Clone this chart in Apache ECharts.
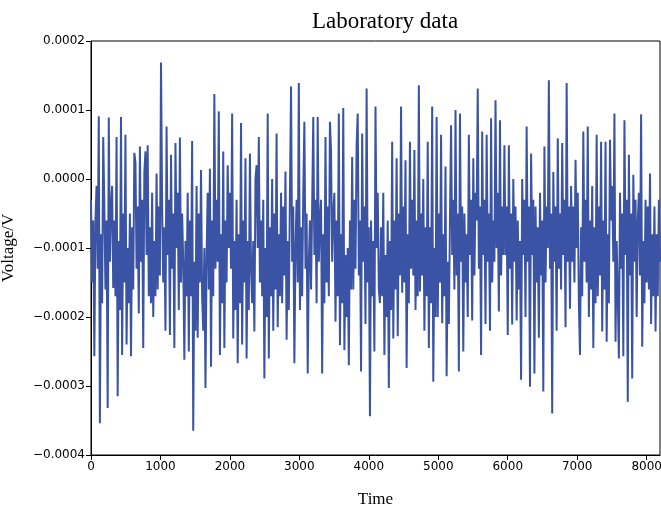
<!DOCTYPE html>
<html><head><meta charset="utf-8">
<script src="https://cdn.jsdelivr.net/npm/echarts@6/dist/echarts.min.js"></script>
<style>html,body{margin:0;padding:0;background:#fff}#c{width:661px;height:506px}</style>
</head><body><div id="c"></div>
<script>
// Voltage readings in microvolts, sampled every 16 time units (0 .. 8192)
const sampleStep = 16;
const voltageMicroV = [
  -30, -150, -60, -257, -60, -10, -130, 91, -354, -80, -180, 61, -40, -160, -60, -332, 89, -120, -40, -10, -158, -60, -170, 61, -315, -90, -190, 90, -255, -50, -150, 64, -240, -100, -180, -50, -257, -70, -160, 38, 24, -130, -40, -195,
  47, -120, -30, -245, 10, 40, -110, 49, -170, -70, -180, -20, -200, -90, -170, 8, -160, -40, -140, 169, -40, -150, -70, -220, 76, -110, -30, -226, 35, -130, -50, -245, 52, -100, -20, -190, 60, -150, -50, -120, -262, -90, -170,
  -20, -250, -60, -170, 55, -365, -120, -220, -10, -230, -50, -150, 13, -170, -220, -100, -303, -110, -20, -160, 15, -272, -60, -170, 123, -130, -30, -120, 98, -255, -80, -180, 40, -245, -60, -150, 20, -100, -20, -130, 95, -231, -90, -190,
  -30, -267, -80, -180, 81, -240, -60, -150, 30, -260, -90, -190, 37, -130, -180, -90, -221, 0, 20, -100, 61, -150, -60, -170, -30, -289, -100, -200, 95, -260, -70, -170, 0, -220, -50, -160, 66, -215, -80, -170, -20, -180, -40, -140,
  11, -233, -90, -190, -20, 134, -120, -40, -267, -100, -30, -150, 139, -190, -70, -170, -20, 83, -130, -50, -282, -120, -60, -160, -40, 90, -110, -30, -180, 90, -120, -60, -30, -282, -80, -180, 61, -150, -40, -170, 83,
  40, -120, -50, -20, -207, -60, -170, 95, -241, -80, -180, 103, -248, -110, -200, -100, -270, -60, -160, 32, -160, -30, -130, 49, 95, -140, -60, -279, 66, -120, -40, -210, 131, -150, -70, -344, -60, -170, -90, -250, 105, -100, -20, -160,
  -180, -70, -170, -20, -255, -110, -200, -60, -303, -90, -190, 54, -231, -60, -160, 30, -228, -50, -140, 105, -165, -40, -150, 27, -274, -80, -180, 54, -130, -30, -140, 42, -190, -60, -170, 136, -163, -50, -140, 0, -220, -70, -170, 54,
  -245, -70, -180, 105, -294, -100, -200, 90, -200, -50, -150, 64, -209, -80, -170, 18, -286, -120, -210, -60, 78, -110, -30, -160, 100, -140, -50, -279, 95, -120, -40, -250, -50, -150, -80, -200, 64, -110, -30, -205, 30, -140, -20,
  -60, 131, -130, -40, -255, 69, -110, -30, -210, 64, -120, -50, -220, 88, -150, -60, -120, 114, -100, -20, -192, 85, -140, -40, -110, 49, -110, -40, -226, 49, -130, -50, -211, 0, -120, -40, -205, -60, -160, -90, -291, 0, -110, -30,
  -200, 76, -120, -40, -301, 37, -110, -30, -282, -40, -150, -70, -230, -20, -140, -60, -308, 47, -150, -40, -100, 143, -130, -50, -340, 10, -120, -40, -220, 59, -130, -50, -160, 52, -110, -30, -215, 139, -120, -40, -188,
  -10, -120, -40, -150, 28, -100, -20, -180, -255, -70, -170, 69, -120, -30, -150, 76, -200, -60, -160, -10, -245, -70, -180, 64, -170, -40, -140, 54, -221, -60, -160, 54, -236, -80, -180, 57, -60, -10, -120, 95, -236, -90, -170, -260,
  -20, -130, -50, -257, 85, -110, -30, -323, 35, -140, -50, -289, 6, -120, -30, -200, -60, -20, -140, 94, -243, -90, -180, -30, -150, -40, -160, 8, -210, -80, -170, -40, -221, -80, -170, -30, -120
];
const xTicks = [0, 1000, 2000, 3000, 4000, 5000, 6000, 7000, 8000];
const yTicks = [-0.0004, -0.0003, -0.0002, -0.0001, 0, 0.0001, 0.0002];

const seriesData = voltageMicroV.map((v, i) => [i * sampleStep, v * 1e-6]);

const chart = echarts.init(document.getElementById('c'), null, {renderer: 'canvas'});
const axisFont = {fontFamily: 'DejaVu Sans', fontSize: 12, color: '#000'};
chart.setOption({
  animation: false,
  backgroundColor: '#fff',
  title: {
    text: 'Laboratory data', left: 380, top: 5, textAlign: 'center',
    textStyle: {fontFamily: 'Liberation Serif', fontSize: 23, fontWeight: 'normal', color: '#000'}
  },
  grid: {left: 91, right: 1, top: 41, bottom: 51, outerBoundsMode: 'none', containLabel: false,
    show: true, borderColor: '#000', borderWidth: 1, backgroundColor: 'transparent'},
  xAxis: {
    type: 'value', min: 0, max: 8192, interval: 1000,
    name: 'Time', nameLocation: 'middle', nameGap: 36,
    nameTextStyle: {fontFamily: 'Liberation Serif', fontSize: 17, color: '#000'},
    axisLine: {show: true, onZero: false, lineStyle: {color: '#000', width: 1}},
    axisTick: {show: true, inside: false, length: 5, lineStyle: {color: '#000'}},
    axisLabel: Object.assign({margin: 6, showMaxLabel: false,
      formatter: v => xTicks.includes(v) ? String(v) : ''}, axisFont),
    splitLine: {show: false}
  },
  yAxis: {
    type: 'value', min: yTicks[0], max: yTicks[yTicks.length - 1], interval: 0.0001,
    name: 'Voltage/V', nameLocation: 'middle', nameGap: 74, nameRotate: 90,
    nameTextStyle: {fontFamily: 'Liberation Serif', fontSize: 17, color: '#000'},
    axisLine: {show: true, onZero: false, lineStyle: {color: '#000', width: 1}},
    axisTick: {show: true, inside: false, length: 5, lineStyle: {color: '#000'}},
    axisLabel: Object.assign({margin: 6, formatter: v => {
      if (Math.abs(v) < 1e-12) return '0.0000';
      const s = Math.abs(v).toFixed(4);
      return v < 0 ? '\u2212' + s : s;
    }}, axisFont),
    splitLine: {show: false}
  },
  series: [{
    type: 'line', data: seriesData, showSymbol: false, symbol: 'none',
    lineStyle: {color: '#3a53a4', width: 2}, itemStyle: {color: '#3a53a4'},
    clip: true
  }]
});
</script></body></html>
